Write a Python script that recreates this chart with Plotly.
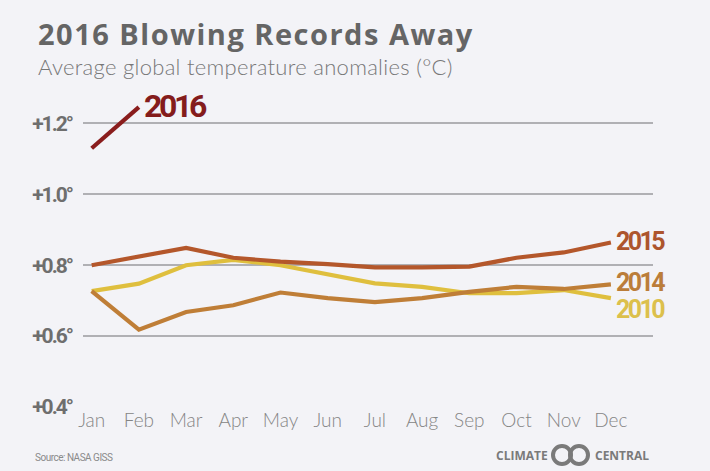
import plotly.graph_objects as go

months = ["Jan", "Feb", "Mar", "Apr", "May", "Jun", "Jul", "Aug", "Sep", "Oct", "Nov", "Dec"]
y2010 = [0.727, 0.748, 0.800, 0.815, 0.800, 0.775, 0.749, 0.739, 0.721, 0.721, 0.730, 0.707]
y2014 = [0.727, 0.618, 0.668, 0.687, 0.723, 0.707, 0.696, 0.707, 0.725, 0.739, 0.733, 0.746]
y2015 = [0.800, 0.826, 0.849, 0.821, 0.810, 0.803, 0.794, 0.794, 0.796, 0.821, 0.836, 0.864]
y2016 = [1.130, 1.246]
ytick_vals = [0.4, 0.6, 0.8, 1.0, 1.2]
ytick_text = ["+0.4°", "+0.6°", "+0.8°", "+1.0°", "+1.2°"]

BG = "#f3f3f7"
NARROW = "Roboto, Liberation Sans, sans-serif"


def spaced(s, ls):
    return '<span style="letter-spacing:%spx">%s</span>' % (ls, s)


series = [
    ("2010", y2010, "#dfbf3e", "#dcc04c", -11),
    ("2014", y2014, "#bf7e37", "#bb7d3a", 2),
    ("2015", y2015, "#b4572b", "#ad552d", 1),
    ("2016", y2016, "#8a1d1d", "#841c1c", 1),
]

fig = go.Figure()
for name, ys, col, tcol, ysh in series:
    xs = months[:len(ys)]
    fig.add_trace(go.Scatter(x=xs, y=ys, mode="lines", name=name,
                             line=dict(color=col, width=4.2), showlegend=False,
                             hoverinfo="skip"))
    big = name == "2016"
    fig.add_annotation(x=xs[-1], y=ys[-1], text=spaced(name, -3.4 if big else -2.6),
                       showarrow=False,
                       xanchor="left", yanchor="middle", xshift=3, yshift=ysh,
                       font=dict(family=NARROW, size=32 if big else 25,
                                 color=tcol, weight="bold"))

fig.update_layout(
    width=710, height=471,
    margin=dict(l=83, r=57, t=88, b=64),
    paper_bgcolor=BG, plot_bgcolor=BG,
    xaxis=dict(type="category", categoryorder="array", categoryarray=months,
               range=[-0.184, 11.892], showgrid=False, zeroline=False,
               showline=False, ticks="",
               tickfont=dict(family="Lato, Open Sans, sans-serif", size=19,
                             color="#858585", weight=300)),
    yaxis=dict(range=[0.4, 1.3], tickvals=ytick_vals,
               ticktext=[spaced(t, -2) for t in ytick_text],
               showgrid=True, gridcolor="#b0b0b4", gridwidth=1.5,
               zeroline=False, showline=False, ticks="",
               ticklabelstandoff=10,
               tickfont=dict(family=NARROW, size=21, color="#6e6e6e", weight="bold")),
)

fig.add_annotation(xref="paper", yref="paper", x=-0.083, y=1.0, yshift=55,
                   text="<b>" + spaced("2016 Blowing Records Away", 1.5) + "</b>",
                   showarrow=False, xanchor="left", yanchor="middle",
                   font=dict(family="Open Sans, sans-serif", size=29, color="#656565"))
fig.add_annotation(xref="paper", yref="paper", x=-0.083, y=1.0, yshift=22,
                   text=spaced("Average global temperature anomalies (°C)", 0.3),
                   showarrow=False, xanchor="left", yanchor="middle",
                   font=dict(family="Lato, sans-serif", size=22, color="#777777", weight=300))
fig.add_annotation(xref="paper", yref="paper", x=-0.088, y=0, yshift=-50,
                   text=spaced("Source: NASA GISS", -0.5), showarrow=False,
                   xanchor="left", yanchor="middle",
                   font=dict(family=NARROW, size=10, color="#8a8a8a"))
# Climate Central logo
fig.add_annotation(xref="paper", yref="paper", x=(550 - 83) / 570, y=0, yshift=-48,
                   text="<b>CLIMATE</b>", showarrow=False, xanchor="right", yanchor="middle",
                   font=dict(family="Open Sans, sans-serif", size=12, color="#7a7a7a"))
fig.add_annotation(xref="paper", yref="paper", x=(593 - 83) / 570, y=0, yshift=-48,
                   text="<b>CENTRAL</b>", showarrow=False, xanchor="left", yanchor="middle",
                   font=dict(family="Open Sans, sans-serif", size=12, color="#7a7a7a"))
for cx in (562, 579):
    fig.add_shape(type="circle", xref="paper", yref="paper", xsizemode="pixel", ysizemode="pixel",
                  xanchor=(cx - 83) / 570, yanchor=0, x0=-9, x1=9, y0=-57, y1=-39,
                  line=dict(color="#7a7a7a", width=4), fillcolor="rgba(0,0,0,0)")

fig.write_html("out.html")
